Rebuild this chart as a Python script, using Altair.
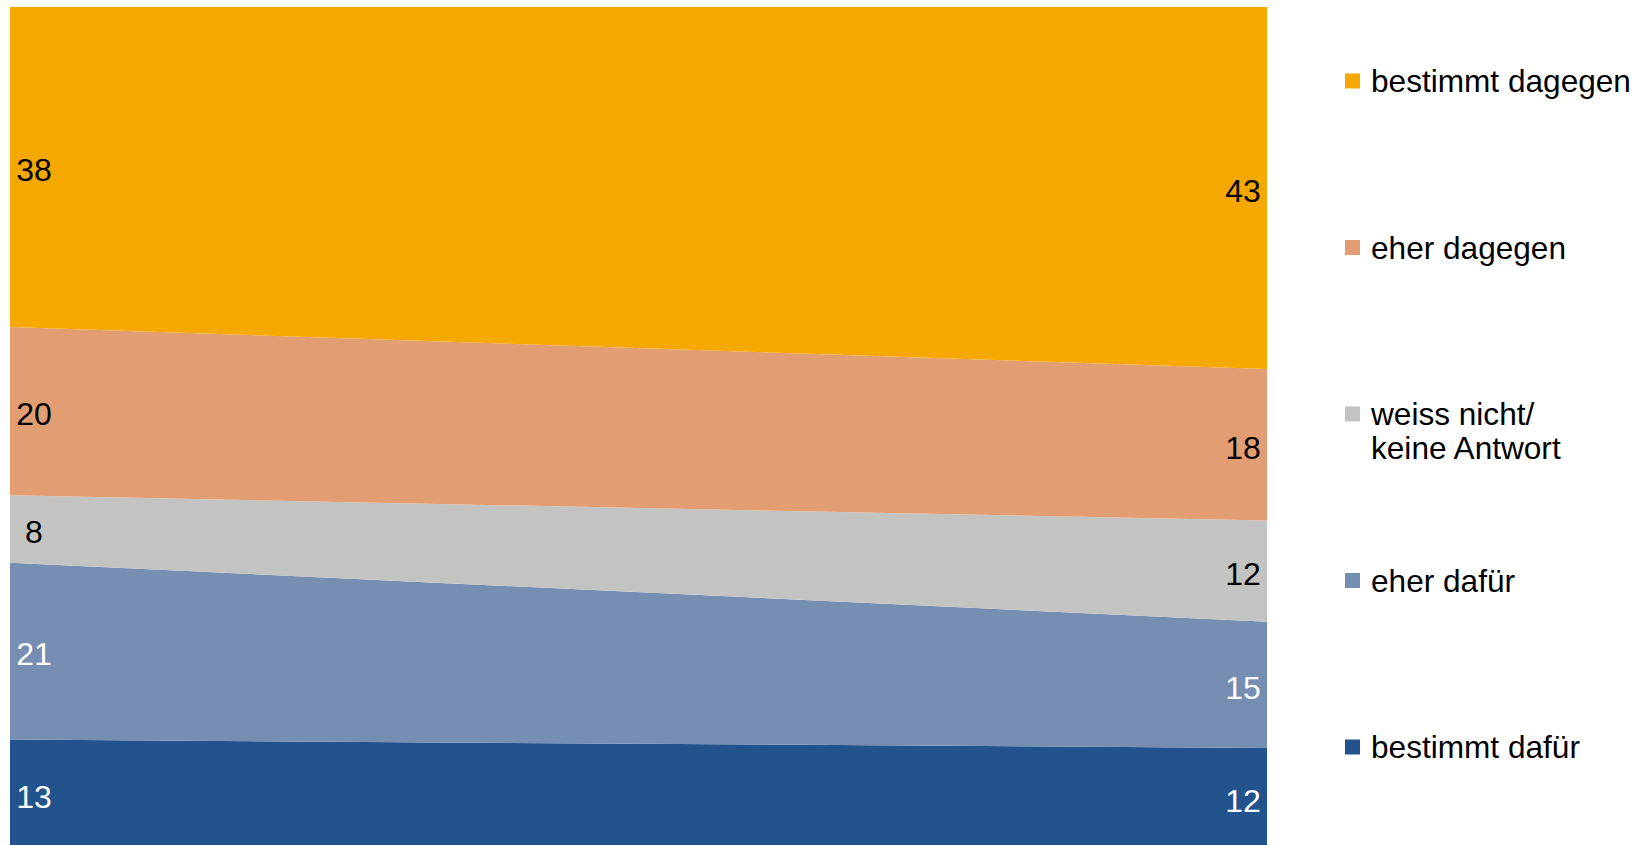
import altair as alt
import pandas as pd

categories = ["bestimmt dafür", "eher dafür", "weiss nicht/ keine Antwort", "eher dagegen", "bestimmt dagegen"]
legend_labels = ["bestimmt dafür", "eher dafür", "weiss nicht/\nkeine Antwort", "eher dagegen", "bestimmt dagegen"]
values_left = [13, 21, 8, 20, 38]
values_right = [12, 15, 12, 18, 43]
colors = ["#22538D", "#768EB2", "#C3C3C1", "#E29E72", "#F5A900"]

rows = []
for i, c in enumerate(categories):
    rows.append({"cat": c, "ord": i, "t": 0, "value": values_left[i]})
    rows.append({"cat": c, "ord": i, "t": 1, "value": values_right[i]})
df = pd.DataFrame(rows)

leg_df = pd.DataFrame({"cat": categories, "label": legend_labels, "ord": list(range(len(categories)))})

FONT = "Liberation Sans"

xscale = alt.Scale(domain=[0, 1], nice=False, zero=False)
yscale = alt.Scale(domain=[0, 100], nice=False)

area = alt.Chart(df).mark_area(opacity=1).encode(
    x=alt.X("t:Q", scale=xscale, axis=None),
    y=alt.Y("value:Q", stack="zero", scale=yscale, axis=None),
    color=alt.Color("cat:N", scale=alt.Scale(domain=categories, range=colors), legend=None),
    order=alt.Order("ord:Q", sort="ascending"),
)

base_txt = alt.Chart(df).transform_stack(
    stack="value", groupby=["t"], as_=["y0", "y1"],
    sort=[alt.SortField(field="ord", order="ascending")],
).transform_calculate(mid="(datum.y0 + datum.y1) / 2")

txt_color = alt.condition("datum.ord <= 1", alt.value("white"), alt.value("black"))

left_txt = base_txt.transform_filter("datum.t == 0").mark_text(
    align="center", baseline="middle", dx=24, dy=4, fontSize=32, font=FONT
).encode(
    x=alt.X("t:Q", scale=xscale, axis=None),
    y=alt.Y("mid:Q", scale=yscale, axis=None),
    text=alt.Text("value:Q"),
    color=txt_color,
)

right_txt = base_txt.transform_filter("datum.t == 1").mark_text(
    align="center", baseline="middle", dx=-24, dy=4, fontSize=32, font=FONT
).encode(
    x=alt.X("t:Q", scale=xscale, axis=None),
    y=alt.Y("mid:Q", scale=yscale, axis=None),
    text=alt.Text("value:Q"),
    color=txt_color,
)

main = alt.layer(area, left_txt, right_txt).properties(width=1257, height=842)

leg_y = alt.Y("cat:N", sort=categories[::-1], scale=alt.Scale(range=[74, 740], padding=0), axis=None)

leg_sq = alt.Chart(leg_df).mark_square(size=225, opacity=1).encode(
    x=alt.value(25.5),
    y=leg_y,
    color=alt.Color("cat:N", scale=alt.Scale(domain=categories, range=colors), legend=None),
)
leg_txt = alt.Chart(leg_df).mark_text(
    align="left", baseline="middle", dy=2, fontSize=31.6, font=FONT, lineBreak="\n", color="black"
).encode(
    x=alt.value(44),
    y=leg_y,
    text=alt.Text("label:N"),
)
legend = alt.layer(leg_sq, leg_txt).properties(width=300, height=842)

chart = alt.hconcat(main, legend, spacing=60).properties(
    padding={"left": 10, "top": 7, "right": 0, "bottom": 0}
).configure(
    font=FONT, view=alt.ViewConfig(stroke="transparent", strokeWidth=0)
)

chart.save("out.html", embed_options={"renderer": "svg", "actions": False})
